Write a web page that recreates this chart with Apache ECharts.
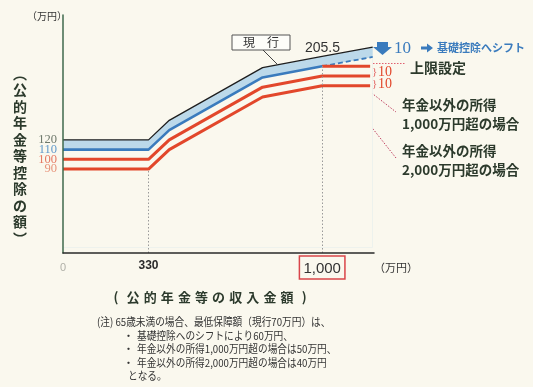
<!DOCTYPE html>
<html><head><meta charset="utf-8">
<script src="https://cdn.jsdelivr.net/npm/echarts@6/dist/echarts.min.js"></script>
<style>html,body{margin:0;padding:0;background:#faf8ee;}#c{width:533px;height:387px;}</style>
</head><body><div id="c"></div>
<script>
// ---- data ----
const xKnots    = [0, 330, 410, 770, 1000, 1195];
const current   = [120, 120, 140, 194, 205.5, 215];   // 現行
const reformed  = [110, 110, 130, 184, 195.5, 205];   // 基礎控除へシフト後
const redX      = [0, 330, 410, 770, 1000, 1185];
const capLine   = [null, null, null, null, 195.5, 195.5]; // 上限設定
const over1000  = [100, 100, 120, 174, 185.5, 185.5];
const over2000  = [90, 90, 110, 164, 175.5, 175.5];
const yTickValues = [90, 100, 110, 120];
const xTickValues = [0, 330, 1000];
const xTickLabels = ['0', '330', '1,000'];
const yTitleChars = ['︵','公','的','年','金','等','控','除','の','額','︶'];
const xTitleChars = ['(','公','的','年','金','等','の','収','入','金','額',')'];
const noteLines = [
  {bullet:'', text:'(注) 65歳未満の場合、最低保障額（現行70万円）は、'},
  {bullet:'・', text:'基礎控除へのシフトにより60万円、'},
  {bullet:'・', text:'年金以外の所得1,000万円超の場合は50万円、'},
  {bullet:'・', text:'年金以外の所得2,000万円超の場合は40万円'},
  {bullet:'', text:'となる。'}
];

const CJK = '"Noto Sans CJK JP", "Noto Sans", sans-serif';
const SERIF = '"Liberation Serif", "DejaVu Serif", serif';
const BG = '#faf8ee';
const DARK = '#2c3a2c';
const BLUE = '#3a7bbd';
const RED = '#e2472b';
const yLabelColors = ['#e27a5e', '#e0583f', '#3b82c2', '#4a574a'];

const pairs = (xs, ys) => xs.map((x, i) => ys[i] == null ? null : [x, ys[i]]).filter(p => p);
const lineOnly = {symbol: 'none', silent: true};

const chart = echarts.init(document.getElementById('c'), null, {renderer: 'canvas'});

const graphics = [];
graphics.push({type:'text', left: 27, top: 11, style:{text:'（万円）', font:'10px ' + CJK, fill:'#333'}});
graphics.push({type:'text', x: 20, y: 65, style:{text: yTitleChars.join('\n'), font:'bold 14px ' + CJK, lineHeight:16.5, fill:DARK, align:'center', verticalAlign:'top'}});
graphics.push({type:'text', x: 374, y: 268, style:{text:'（万円）', font:'11px ' + CJK, fill:'#333', verticalAlign:'middle'}});
xTitleChars.forEach((ch, i) => graphics.push({type:'text', x: 116 + i * 17.1, y: 297.5, style:{text: ch, font:'bold 13px ' + CJK, fill:DARK, align:'center', verticalAlign:'middle'}}));
const noteY = [322, 335.5, 349, 362.5, 376];
noteLines.forEach((ln, i) => {
  if (ln.bullet) graphics.push({type:'text', x: 123, y: noteY[i], style:{text: ln.bullet, font:'11px ' + CJK, fill:'#333', verticalAlign:'middle'}});
  const x0 = i === 0 ? 97 : (i === 4 ? 128 : 137);
  graphics.push({type:'text', x: x0, y: noteY[i], scaleX: 0.88, style:{text: ln.text, font:'11px ' + CJK, fill:'#333', verticalAlign:'middle'}});
});
graphics.push({type:'rect', shape:{x:232, y:35, width:58, height:15}, style:{fill:'#fdfdf9', stroke:'#555', lineWidth:1}});
graphics.push({type:'text', x: 261, y: 42.5, style:{text:'現　行', font:'12px ' + CJK, fill:'#333', align:'center', verticalAlign:'middle'}});
graphics.push({type:'line', shape:{x1:263, y1:50, x2:277, y2:64}, style:{stroke:'#444', lineWidth:1}});
graphics.push({type:'text', x: 305, y: 48, style:{text:'205.5', font:'14px "Liberation Sans", Arial, sans-serif', fill:'#333', verticalAlign:'middle'}});
graphics.push({type:'polygon', shape:{points:[[377,42],[388,42],[388,47],[392,47],[382.5,55],[373,47],[377,47]]}, style:{fill:BLUE}});
graphics.push({type:'text', x: 394, y: 49, style:{text:'10', font:'17px ' + SERIF, fill:BLUE, verticalAlign:'middle'}});
graphics.push({type:'polygon', shape:{points:[[421,46.5],[427,46.5],[427,43.5],[433,48],[427,52.5],[427,49.5],[421,49.5]]}, style:{fill:BLUE}});
graphics.push({type:'text', x: 437, y: 48, style:{text:'基礎控除へシフト', font:'bold 11px ' + CJK, fill:BLUE, verticalAlign:'middle'}});
graphics.push({type:'line', shape:{x1:373, y1:63.5, x2:405, y2:63.5}, style:{stroke:'#e06070', lineWidth:1, lineDash:[1.5,1.5]}});
graphics.push({type:'text', x: 410, y: 68, style:{text:'上限設定', font:'bold 14px ' + CJK, fill:DARK, verticalAlign:'middle'}});
[72, 84].forEach(y => {
  graphics.push({type:'text', x: 372, y: y, style:{text:'}', font:'11px ' + SERIF, fill:'#e06060', verticalAlign:'middle'}});
  graphics.push({type:'text', x: 378, y: y, style:{text:'10', font:'14px ' + SERIF, fill:RED, verticalAlign:'middle'}});
});
graphics.push({type:'line', shape:{x1:355, y1:80, x2:396, y2:112}, style:{stroke:'#c04060', lineWidth:1, lineDash:[1.5,1.5]}});
graphics.push({type:'line', shape:{x1:343, y1:91, x2:396, y2:158}, style:{stroke:'#c04060', lineWidth:1, lineDash:[1.5,1.5]}});
[['年金以外の所得',105],['1,000万円超の場合',124],['年金以外の所得',151],['2,000万円超の場合',170]].forEach(([t,y]) =>
  graphics.push({type:'text', x: 402, y: y, style:{text:t, font:'bold 13.5px ' + CJK, fill:DARK, verticalAlign:'middle'}}));

chart.setOption({
  backgroundColor: BG,
  animation: false,
  grid: {left: 63, right: 159, top: 15, bottom: 134, containLabel: false, outerBoundsMode: 'none'},
  xAxis: {
    type: 'value', min: 0, max: 1200, z: 10,
    axisLine: {show: true, lineStyle: {color: '#2a2a2a', width: 1.5}},
    axisTick: {show: false},
    splitLine: {show: false},
    axisLabel: {
      customValues: xTickValues, margin: 3, hideOverlap: false,
      formatter: v => {
        const lab = xTickLabels[xTickValues.indexOf(v)];
        return v === 0 ? '{z|' + lab + '}' : (v === 330 ? '{a|' + lab + '}' : '{b|' + lab + '}');
      },
      rich: {
        z: {color: '#b0b0a8', fontSize: 11, fontFamily: '"Liberation Sans", Arial', padding: [6,0,0,0]},
        a: {color: '#2a2a2a', fontSize: 12, fontWeight: 'bold', fontFamily: '"Liberation Sans", Arial', padding: [4,0,0,0]},
        b: {color: '#333', fontSize: 15, fontFamily: '"Liberation Sans", Arial', borderColor: '#d9454a', borderWidth: 1.5, padding: [5,4,3,4]}
      }
    }
  },
  yAxis: {
    type: 'value', min: 4, max: 248, z: 10,
    axisLine: {show: true, lineStyle: {color: '#3f6a4c', width: 1.5}},
    axisTick: {show: false},
    splitLine: {show: false},
    axisLabel: {show: false}
  },
  graphic: graphics,
  series: [
    Object.assign({type: 'line', name: 'band', data: pairs(xKnots, current), lineStyle: {opacity: 0}, areaStyle: {color: '#bcd9ea', opacity: 1, origin: 10}, z: 1}, lineOnly),
    Object.assign({type: 'line', name: 'bandMask', data: pairs(xKnots, reformed), lineStyle: {opacity: 0}, areaStyle: {color: BG, opacity: 1, origin: 10}, z: 2}, lineOnly),
    Object.assign({type: 'line', name: '現行', data: pairs(xKnots, current), lineStyle: {color: '#1e1e1e', width: 1.3}, z: 5}, lineOnly),
    Object.assign({type: 'line', name: 'reformed', data: pairs(xKnots.slice(0, 5), reformed.slice(0, 5)), lineStyle: {color: BLUE, width: 2.6}, z: 4}, lineOnly),
    Object.assign({type: 'line', name: 'reformedExt', data: pairs(xKnots.slice(4), reformed.slice(4)), lineStyle: {color: BLUE, width: 1.8, type: [5, 3]}, z: 4}, lineOnly),
    Object.assign({type: 'line', name: 'cap', data: pairs(redX, capLine), lineStyle: {color: RED, width: 3}, z: 4}, lineOnly),
    Object.assign({type: 'line', name: 'over1000', data: pairs(redX, over1000), lineStyle: {color: RED, width: 3}, z: 4}, lineOnly),
    Object.assign({type: 'line', name: 'over2000', data: pairs(redX, over2000), lineStyle: {color: RED, width: 3}, z: 4,
      markLine: {silent: true, symbol: 'none', label: {show: false},
        lineStyle: {color: '#9a9a9a', type: [1.5, 2], width: 1},
        data: [
          [{coord: [xTickValues[1], 4]}, {coord: [xTickValues[1], over2000[1]]}],
          [{coord: [xTickValues[2], 4]}, {coord: [xTickValues[2], capLine[4]]}]
        ]}}, lineOnly),
    {type: 'scatter', name: 'yLabels', silent: true, symbolSize: 0, z: 6,
      data: yTickValues.map((v, i) => ({value: [0, v], label: {color: yLabelColors[i]}})),
      label: {show: true, position: 'left', distance: 6, fontSize: 12.5, fontFamily: SERIF,
        formatter: p => String(p.value[1])}}
  ]
});
</script></body></html>
